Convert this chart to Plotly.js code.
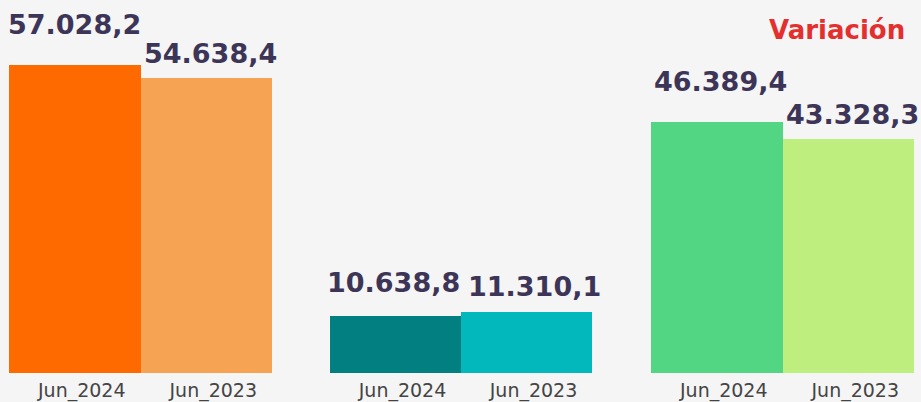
<!DOCTYPE html>
<html>
<head>
<meta charset="utf-8">
<script src="https://cdn.plot.ly/plotly-3.0.1.min.js"></script>
<style>html,body{margin:0;padding:0;background:#f5f5f5;}#chart{width:921px;height:402px;}</style>
</head>
<body>
<div id="chart"></div>
<script>
const categories = ["Jun_2024", "Jun_2023"];
const group1Values = [57028.2, 54638.4];
const group2Values = [10638.8, 11310.1];
const group3Values = [46389.4, 43328.3];
const group1Colors = ["#FF6A00", "#F7A354"];
const group2Colors = ["#027F80", "#02B8BC"];
const group3Colors = ["#53D684", "#BEEE7E"];
const valueLabels1 = ["57.028,2", "54.638,4"];
const valueLabels2 = ["10.638,8", "11.310,1"];
const valueLabels3 = ["46.389,4", "43.328,3"];
const headerText = "Variación";

const groups = [
  {vals: group1Values, cols: group1Colors, labels: valueLabels1, xa: "x", dx: [0, 4], dy: [23, 7]},
  {vals: group2Values, cols: group2Colors, labels: valueLabels2, xa: "x2", dx: [-2, 8], dy: [16, 8]},
  {vals: group3Values, cols: group3Colors, labels: valueLabels3, xa: "x3", dx: [4, 4], dy: [23, 7]}
];

const traces = groups.map(g => ({
  type: "bar",
  x: categories,
  y: g.vals,
  xaxis: g.xa,
  yaxis: "y",
  marker: {color: g.cols, line: {width: 0}},
  hoverinfo: "skip"
}));

const annotations = [];
groups.forEach(g => {
  g.vals.forEach((v, i) => {
    annotations.push({
      xref: g.xa, yref: "y",
      x: categories[i], y: v,
      text: "<b>" + g.labels[i] + "</b>",
      showarrow: false,
      xanchor: "center", yanchor: "bottom",
      xshift: g.dx[i], yshift: g.dy[i],
      font: {family: "DejaVu Sans", size: 27, color: "#3D3557"}
    });
  });
});
annotations.push({
  xref: "paper", yref: "paper",
  x: 907 / 921, y: 1,
  xanchor: "right", yanchor: "top",
  yshift: -13,
  text: "<b>" + headerText + "</b>",
  showarrow: false,
  font: {family: "DejaVu Sans", size: 26, color: "#E3302F"}
});

const xbase = {
  type: "category",
  range: [-0.5, 1.5],
  autorange: false,
  showgrid: false, zeroline: false, showline: false,
  ticks: "",
  tickfont: {family: "DejaVu Sans", size: 19, color: "#444444"},
  ticklabelshift: 7,
  ticklabelstandoff: 4,
  fixedrange: true
};

const layout = {
  width: 921, height: 402,
  margin: {l: 0, r: 0, t: 0, b: 29},
  paper_bgcolor: "#f5f5f5",
  plot_bgcolor: "#f5f5f5",
  showlegend: false,
  bargap: 0,
  xaxis: Object.assign({}, xbase, {domain: [9 / 921, 272 / 921], anchor: "y"}),
  xaxis2: Object.assign({}, xbase, {domain: [330 / 921, 592 / 921], anchor: "y"}),
  xaxis3: Object.assign({}, xbase, {domain: [651 / 921, 914 / 921], anchor: "y"}),
  yaxis: {range: [0, 69060], autorange: false, visible: false, showgrid: false, zeroline: false, fixedrange: true},
  annotations: annotations
};

Plotly.newPlot("chart", traces, layout, {displayModeBar: false, staticPlot: true});
</script>
</body>
</html>
